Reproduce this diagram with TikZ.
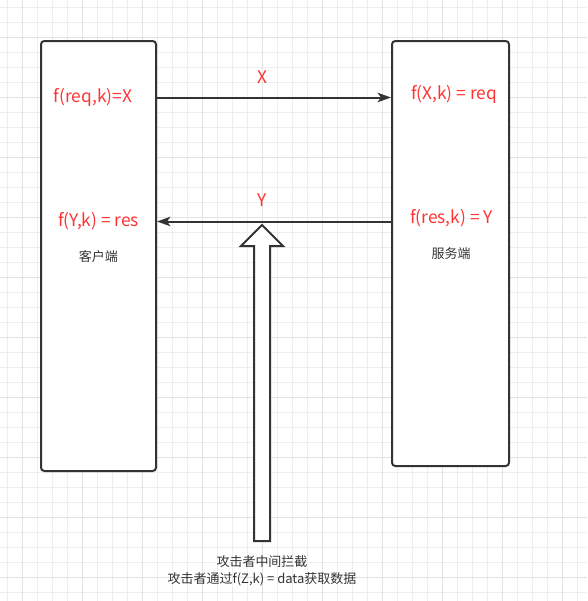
\documentclass[tikz,border=0pt]{standalone}
\usepackage{fontspec}
\newfontfamily\cjk{Noto Sans CJK SC}
\usetikzlibrary{arrows.meta}
\definecolor{ink}{HTML}{333333}
\definecolor{redtxt}{HTML}{FF3333}
\definecolor{gridminor}{HTML}{EEEEEE}
\definecolor{gridmajor}{HTML}{E2E2E2}
\tikzset{
  box/.style={draw=ink, line width=1.5pt, rounded corners=2.5pt, fill=white, inner sep=0pt},
  formula/.style={text=redtxt, font=\cjk\fontsize{13}{15}\selectfont},
  tag/.style={text=ink, font=\cjk\fontsize{9.75}{12.75}\selectfont},
  msg/.style={draw=ink, line width=1.5pt, -{Stealth[length=10pt,width=7pt,inset=2.5pt]}}
}
\begin{document}
\begin{tikzpicture}[x=0.75pt,y=-0.75pt]
\useasboundingbox (0,0) rectangle (587,601);
% grid
\foreach \i in {0,...,39} {
  \draw[gridminor, line width=0.75pt] (7.5+15*\i,0) -- (7.5+15*\i,601);
  \draw[gridminor, line width=0.75pt] (0,7.5+15*\i) -- (587,7.5+15*\i);
}
\foreach \i in {0,...,9} {
  \draw[gridmajor, line width=0.75pt] (22.5+60*\i,0) -- (22.5+60*\i,601);
  \draw[gridmajor, line width=0.75pt] (0,37.5+60*\i) -- (587,37.5+60*\i);
}

% the two ends
\node[box, minimum width=86.25pt, minimum height=322.5pt] (client) at (98.5,256) {};
\node[box, minimum width=87.75pt, minimum height=318.75pt] (server) at (450.5,253.5) {};

\node[formula] (reqX) at (93,97.5) {f(req,k)=X};
\node[formula] (Yres) at (98.5,221.5) {f(Y,k) = res};
\node[tag] (cl) at (98.5,256.5) {客户端};
\node[formula] (Xreq) at (454,94) {f(X,k) = req};
\node[formula] (resY) at (451.5,218) {f(res,k) = Y};
\node[tag] (sv) at (451,253.5) {服务端};

% messages
\draw[msg] (client.east |- reqX) -- (server.west |- reqX);
\draw[msg] (server.west |- Yres) -- (client.east |- Yres);
\node[formula] (lx) at (262,77) {X};
\node[formula] (ly) at (262,200) {Y};

% attacker
\draw[ink, line width=1.5pt, fill=white] (254,541) -- (254,246) -- (241,246) -- (262,225) -- (283,246) -- (270,246) -- (270,541) -- cycle;
\node[tag, align=center] (attack) at (262,570.5) {攻击者中间拦截\\攻击者通过f(Z,k) = data获取数据};

\end{tikzpicture}
\end{document}
